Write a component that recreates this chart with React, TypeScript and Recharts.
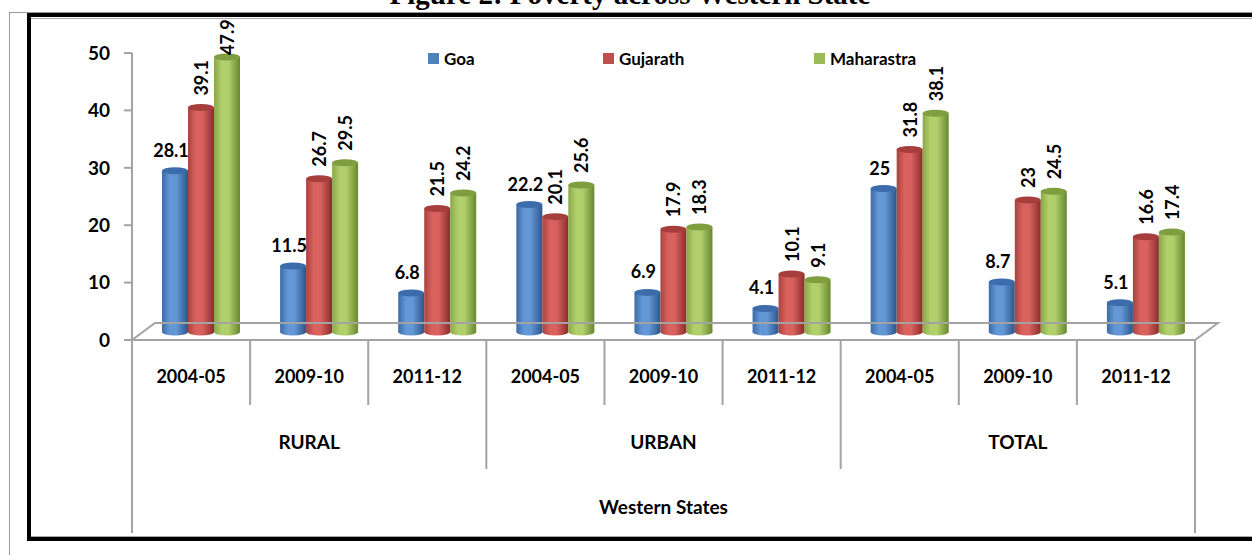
import React from 'react';
import { BarChart, Bar, XAxis, YAxis, Legend, LabelList } from 'recharts';

const categories = ['2004-05', '2009-10', '2011-12', '2004-05', '2009-10', '2011-12', '2004-05', '2009-10', '2011-12'];
const groups = ['RURAL', 'URBAN', 'TOTAL'];
const goa = [28.1, 11.5, 6.8, 22.2, 6.9, 4.1, 25, 8.7, 5.1];
const gujarath = [39.1, 26.7, 21.5, 20.1, 17.9, 10.1, 31.8, 23, 16.6];
const maharastra = [47.9, 29.5, 24.2, 25.6, 18.3, 9.1, 38.1, 24.5, 17.4];
const yTicks = [0, 10, 20, 30, 40, 50];
const seriesNames = ['Goa', 'Gujarath', 'Maharastra'];
const axisTitle = 'Western States';
const chartTitle = 'Figure 2: Poverty across Western State';

const data = categories.map((year, i) => ({
  idx: i,
  year,
  group: groups[Math.floor(i / 3)],
  Goa: goa[i],
  Gujarath: gujarath[i],
  Maharastra: maharastra[i],
}));

const W = 1252;
const H = 555;
const PLOT_LEFT = 132;
const PLOT_RIGHT = 1195;
const PLOT_TOP = 53;
const PLOT_BOTTOM = 340;
const BW = (PLOT_RIGHT - PLOT_LEFT) / categories.length;
const DX = 10;
const DY = -8;
const DEPTH_X = 23;
const DEPTH_Y = 17;
const LABEL_TOP_LIMIT = 21;
const VLABEL_LEN = 34;
const FONT = 'Lato, "Open Sans", sans-serif';
const GRID = '#a3a3a3';

const colors = [
  { id: 'gBlue', dark: '#2c5689', mid: '#6497d6', edge: '#3b6ba8', top: '#3c6cab', legend: '#4F81BD' },
  { id: 'gRed', dark: '#8a2d2b', mid: '#d9625f', edge: '#a9423f', top: '#a63f3c', legend: '#C0504D' },
  { id: 'gGreen', dark: '#68872f', mid: '#b1d06c', edge: '#89a748', top: '#7e9e3f', legend: '#9BBB59' },
];

const makeCylinder = (ci: number) => (props: any) => {
  const { x, y, width, height } = props;
  if (height == null || width == null) return null;
  const c = colors[ci];
  const X = x + DX;
  const Y = y + DY;
  const rx = width / 2;
  const ry = 3.5;
  return (
    <g>
      <ellipse cx={X + rx} cy={Y + height} rx={rx} ry={ry} fill={`url(#${c.id})`} />
      <rect x={X} y={Y} width={width} height={height} fill={`url(#${c.id})`} />
      <ellipse cx={X + rx} cy={Y} rx={rx} ry={ry} fill={c.top} />
    </g>
  );
};

const HLabel = (props: any) => {
  const { x, y, width, value } = props;
  return (
    <text
      x={x + width / 2 + DX - 4}
      y={y + DY - 14}
      textAnchor="middle"
      fontFamily={FONT}
      fontWeight={700}
      fontSize={18}
      fill="#000"
    >
      {value}
    </text>
  );
};

const VLabel = (props: any) => {
  const { x, y, width, value } = props;
  const cx = x + width / 2 + DX;
  const cy = Math.max(y + DY - 12, LABEL_TOP_LIMIT + VLABEL_LEN);
  return (
    <text
      transform={`translate(${cx},${cy}) rotate(-90)`}
      textAnchor="start"
      dominantBaseline="central"
      fontFamily={FONT}
      fontWeight={700}
      fontSize={18}
      fill="#000"
    >
      {value}
    </text>
  );
};

const XTick = (props: any) => {
  const { x, index } = props;
  const top = PLOT_BOTTOM;
  const right = x + BW / 2;
  const left = x - BW / 2;
  let lineEnd = top + 65;
  if (index === 2 || index === 5) lineEnd = top + 129;
  if (index === categories.length - 1) lineEnd = top + 193;
  return (
    <g>
      {index === 0 && (
        <g>
          <path
            d={`M${left},${top} L${left + DEPTH_X},${top - DEPTH_Y} L${left + BW * categories.length + DEPTH_X},${top - DEPTH_Y} L${left + BW * categories.length},${top} Z`}
            fill="none"
            stroke={GRID}
            strokeWidth={2}
          />
          <line x1={left} y1={top} x2={left} y2={top + 193} stroke={GRID} strokeWidth={2} />
          <text
            x={left + (BW * categories.length) / 2}
            y={top + 174}
            textAnchor="middle"
            fontFamily={FONT}
            fontWeight={700}
            fontSize={19}
            fill="#000"
          >
            {axisTitle}
          </text>
        </g>
      )}
      <line x1={right} y1={top} x2={right} y2={lineEnd} stroke={GRID} strokeWidth={2} />
      <text x={x} y={top + 43} textAnchor="middle" fontFamily={FONT} fontWeight={700} fontSize={18} fill="#000">
        {categories[index]}
      </text>
      {index % 3 === 1 && (
        <text x={x} y={top + 109} textAnchor="middle" fontFamily={FONT} fontWeight={700} fontSize={19} fill="#000">
          {groups[Math.floor(index / 3)]}
        </text>
      )}
    </g>
  );
};

const legendWidths = [175, 211, 120];

const LegendContent = () => (
  <div style={{ display: 'flex', alignItems: 'center', fontFamily: FONT, fontWeight: 700, fontSize: 17, color: '#000' }}>
    {seriesNames.map((n, i) => (
      <div key={n} style={{ display: 'flex', alignItems: 'center', width: legendWidths[i] }}>
        <span style={{ display: 'inline-block', width: 11, height: 11, background: colors[i].legend, marginRight: 5 }} />
        <span>{n}</span>
      </div>
    ))}
  </div>
);

const Frame = () => (
  <svg width={W} height={H} style={{ position: 'absolute', left: 0, top: 0 }}>
    <rect x={0} y={0} width={W} height={H} fill="#fff" />
    <text
      x={630}
      y={4}
      textAnchor="middle"
      fontFamily='"Liberation Serif", "Times New Roman", serif'
      fontWeight={700}
      fontSize={29}
      fill="#000"
    >
      {chartTitle}
    </text>
    <line x1={9.5} y1={12} x2={9.5} y2={H} stroke="#999" strokeWidth={1} />
    <line x1={9} y1={12.5} x2={W} y2={12.5} stroke="#999" strokeWidth={1} />
    <rect x={27} y={13} width={4} height={528} fill="#000" />
    <rect x={27} y={13} width={W - 27} height={4} fill="#000" />
    <rect x={27} y={537} width={W - 27} height={4} fill="#000" />
    <line x1={31} y1={18.5} x2={W} y2={18.5} stroke="#aaa" strokeWidth={1} />
    <line x1={31} y1={536.5} x2={W} y2={536.5} stroke="#aaa" strokeWidth={1} />
  </svg>
);

export default function App() {
  return (
    <div style={{ position: 'absolute', left: 0, top: 0, width: W, height: H, overflow: 'hidden', background: '#fff' }}>
      <Frame />
      <div style={{ position: 'absolute', left: 0, top: 0 }}>
        <BarChart
          width={W}
          height={H}
          data={data}
          margin={{ top: PLOT_TOP, right: W - PLOT_RIGHT, bottom: 15, left: 72 }}
          barGap={0}
          barSize={26}
        >
          <defs>
            {colors.map((c) => (
              <linearGradient key={c.id} id={c.id} x1="0" y1="0" x2="1" y2="0">
                <stop offset="0%" stopColor={c.edge} />
                <stop offset="30%" stopColor={c.mid} />
                <stop offset="55%" stopColor={c.mid} />
                <stop offset="100%" stopColor={c.dark} />
              </linearGradient>
            ))}
          </defs>
          <XAxis
            dataKey="idx"
            type="category"
            height={200}
            axisLine={false}
            tickLine={false}
            tickSize={0}
            tickMargin={0}
            interval={0}
            tick={<XTick />}
          />
          <YAxis
            width={60}
            domain={[0, 50]}
            ticks={yTicks}
            interval={0}
            axisLine={{ stroke: GRID, strokeWidth: 2 }}
            tickLine={{ stroke: GRID, strokeWidth: 2 }}
            tickSize={8}
            tickMargin={14}
            tick={{ fill: '#000', fontSize: 19, fontWeight: 700, fontFamily: FONT }}
          />
          <Legend
            layout="horizontal"
            verticalAlign="middle"
            align="center"
            content={<LegendContent />}
            wrapperStyle={{ position: 'absolute', top: 48, left: 428, width: 'auto', height: 'auto' }}
          />
          <Bar dataKey="Goa" name={seriesNames[0]} fill={colors[0].legend} shape={makeCylinder(0)} isAnimationActive={false}>
            <LabelList dataKey="Goa" content={<HLabel />} />
          </Bar>
          <Bar dataKey="Gujarath" name={seriesNames[1]} fill={colors[1].legend} shape={makeCylinder(1)} isAnimationActive={false}>
            <LabelList dataKey="Gujarath" content={<VLabel />} />
          </Bar>
          <Bar dataKey="Maharastra" name={seriesNames[2]} fill={colors[2].legend} shape={makeCylinder(2)} isAnimationActive={false}>
            <LabelList dataKey="Maharastra" content={<VLabel />} />
          </Bar>
        </BarChart>
      </div>
    </div>
  );
}
